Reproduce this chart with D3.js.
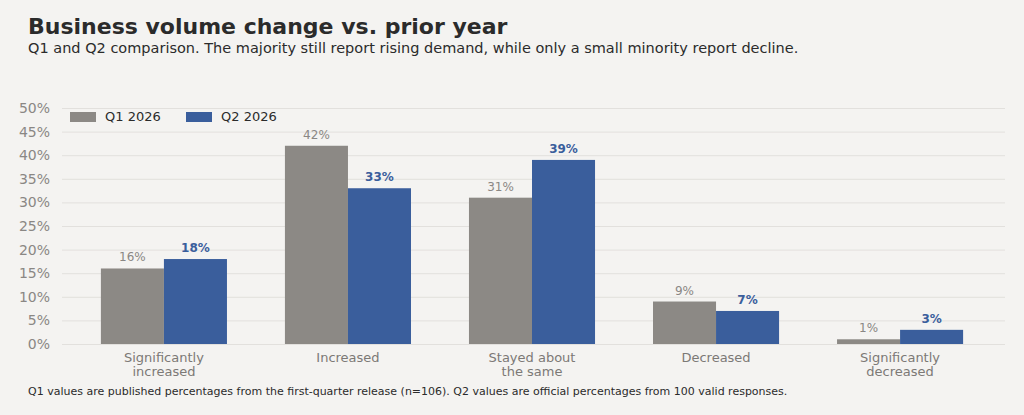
<!DOCTYPE html>
<html><head><meta charset="utf-8">
<script src="https://cdn.jsdelivr.net/npm/d3@7"></script>
<style>body{margin:0;background:#f4f3f1}svg{display:block;font-family:"DejaVu Sans",sans-serif}</style>
</head><body><svg id="c" width="1024" height="415"></svg>
<script>
const categories=[["Significantly","increased"],["Increased"],["Stayed about","the same"],["Decreased"],["Significantly","decreased"]];
const q1=[16,42,31,9,1];
const q2=[18,33,39,7,3];
const series=["Q1 2026","Q2 2026"];
const yTicks=[0,5,10,15,20,25,30,35,40,45,50];
const colors=["#8c8985","#3a5e9c"];
const svg=d3.select("#c");
svg.append("rect").attr("width",1024).attr("height",415).attr("fill","#f4f3f1");
svg.append("text").attr("x",28).attr("y",34).attr("font-size",22).attr("font-weight","bold").attr("fill","#2b2b2b").text("Business volume change vs. prior year");
svg.append("text").attr("x",28).attr("y",53).attr("font-size",14.5).attr("fill","#2b2b2b").text("Q1 and Q2 comparison. The majority still report rising demand, while only a small minority report decline.");
const y=d3.scaleLinear().domain([0,50]).range([344,108]);
const x=d3.scaleBand().domain(d3.range(5)).range([72,992]).paddingInner(0.315).paddingOuter(0.157);
const xs=d3.scaleBand().domain([0,1]).range([0,x.bandwidth()]);
const ya=svg.append("g").attr("transform","translate(62,0)").call(d3.axisLeft(y).tickValues(yTicks).tickFormat(d=>d+"%").tickSize(-943).tickPadding(12));
ya.select(".domain").remove();
ya.selectAll("line").attr("stroke","#e2e0dd");
ya.selectAll("text").attr("font-size",14).attr("fill","#8a8784").attr("font-family","DejaVu Sans");
[q1,q2].forEach((vals,s)=>{
  const g=svg.append("g");
  g.selectAll("rect").data(vals).join("rect").attr("x",(d,i)=>x(i)+xs(s)).attr("width",xs.bandwidth()).attr("y",d=>y(d)).attr("height",d=>y(0)-y(d)).attr("fill",colors[s]);
  g.selectAll("text").data(vals).join("text").attr("x",(d,i)=>x(i)+xs(s)+xs.bandwidth()/2).attr("y",d=>y(d)-7).attr("text-anchor","middle").attr("font-size",12).attr("font-weight",s?"bold":"normal").attr("fill",s?colors[1]:"#8a8784").text(d=>d+"%");
});
categories.forEach((lines,i)=>{
  const t=svg.append("text").attr("x",x(i)+x.bandwidth()/2).attr("y",362).attr("text-anchor","middle").attr("font-size",13).attr("fill","#7c7976");
  lines.forEach((l,j)=>t.append("tspan").attr("x",x(i)+x.bandwidth()/2).attr("dy",j?14:0).text(l));
});
series.forEach((s,i)=>{
  const lx=[70,186][i];
  svg.append("rect").attr("x",lx).attr("y",112).attr("width",26).attr("height",10).attr("fill",colors[i]);
  svg.append("text").attr("x",lx+35).attr("y",121).attr("font-size",13).attr("fill","#2b2b2b").text(s);
});
svg.append("text").attr("x",28).attr("y",395).attr("font-size",11).attr("fill","#2b2b2b").text("Q1 values are published percentages from the first-quarter release (n=106). Q2 values are official percentages from 100 valid responses.");
</script></body></html>
